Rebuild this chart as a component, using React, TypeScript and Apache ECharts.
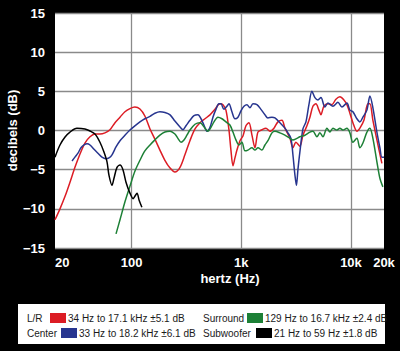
import { useEffect, useRef } from "react";
import * as echarts from "echarts";

// ---- data (frequency in Hz, level in dB) ----
const subHz = [20, 22.2, 24.7, 27.4, 31.7, 37.5, 41.7, 46.3, 51.4, 55.9, 59.6, 62.1, 66.2, 69.0, 73.5, 78.3, 83.3, 88.8, 96.5, 103, 107, 112, 117, 124];
const subDb = [-3.4, -1.85, -0.83, -0.2, 0.28, 0.19, -0.06, -0.45, -1.5, -2.75, -4.0, -5.7, -7.0, -6.1, -4.7, -4.4, -5.0, -6.6, -8.0, -8.7, -8.4, -8.0, -8.9, -9.8];

const lrHz = [20, 22.2, 24.7, 27.4, 30.4, 33.8, 37.5, 41.7, 46.3, 51.4, 57.1, 63.4, 70.5, 78.3, 86.9, 96.5, 107, 119, 132, 147, 163, 181, 201, 224, 248, 276, 306, 340, 378, 420, 466, 518, 575, 638, 680, 724, 771, 804, 839, 875, 912, 972, 1035, 1102, 1174, 1250, 1331, 1418, 1542, 1677, 1824, 1984, 2157, 2347, 2498, 2775, 2955, 3148, 3423, 3646, 3965, 4222, 4497, 4789, 5100, 5318, 5663, 6160, 6699, 7288, 7925, 8619, 9182, 9777, 10412, 11325, 12060, 13117, 14268, 14876, 15844, 17232, 19136];
const lrDb = [-11.4, -10.0, -8.4, -6.6, -4.7, -3.0, -1.6, -0.8, -0.45, -0.45, -0.3, 0.1, 1.0, 1.7, 2.4, 2.8, 3.0, 2.75, 1.85, 0.2, -1.1, -2.5, -3.8, -4.8, -5.3, -4.7, -3.1, -1.3, 0.2, 1.0, 1.5, 2.0, 2.7, 3.4, 3.3, 2.6, 0.1, -2.5, -4.5, -3.5, -2.5, -1.3, -0.7, 0.6, 1.0, -0.6, -2.2, -0.2, 0.1, 0.3, -0.1, 0.3, 1.1, 1.3, 0.3, -1.0, -2.2, -1.5, -2.0, -0.6, 0.6, 1.7, 3.1, 3.4, 2.6, 2.0, 3.1, 3.4, 3.3, 4.0, 4.3, 3.9, 3.3, 2.2, 1.0, -0.1, 0.3, 1.3, 3.4, 3.4, 1.3, -1.2, -4.2];

const centerHz = [28.6, 30.4, 32.4, 34.5, 36.8, 39.2, 41.7, 45.4, 49.3, 53.6, 58.3, 62.1, 66.2, 72.0, 78.3, 86.9, 96.5, 107, 119, 132, 147, 163, 181, 201, 224, 248, 276, 294, 313, 340, 370, 402, 429, 456, 486, 518, 551, 587, 625, 652, 694, 739, 771, 821, 875, 932, 992, 1057, 1125, 1198, 1276, 1388, 1510, 1642, 1748, 1902, 2025, 2250, 2498, 2661, 2834, 2955, 3083, 3181, 3282, 3423, 3646, 3883, 4135, 4403, 4689, 4994, 5318, 5784, 6160, 6841, 7600, 8265, 9182, 9777, 10412, 11325, 12060, 12845, 13972, 14876, 15844, 17232, 18350, 19136, 20000];
const centerDb = [-3.9, -3.4, -2.9, -2.2, -1.85, -1.7, -1.85, -2.4, -2.9, -3.4, -3.6, -3.5, -3.1, -2.1, -1.3, -0.6, 0.06, 0.6, 1.1, 1.5, 1.8, 2.2, 2.4, 2.3, 2.0, 1.2, 0.45, 0.1, 0.6, 1.3, 1.9, 2.0, 1.5, 0.7, -0.1, 0.4, 1.7, 2.7, 3.4, 3.4, 2.7, 3.1, 3.4, 2.4, 1.5, 1.7, 2.5, 3.1, 3.3, 2.9, 3.4, 3.3, 2.7, 2.0, 1.6, 1.7, 1.6, 1.0, 0.3, -0.3, -1.0, -3.1, -5.7, -7.0, -5.0, -2.7, 0.2, 1.1, 3.3, 5.0, 4.2, 3.9, 4.2, 3.0, 3.5, 3.1, 3.6, 3.0, 3.5, 2.6, 2.4, 1.5, 1.1, 1.7, 2.6, 4.4, 2.9, -0.2, -2.2, -3.4, -3.4];

const surroundHz = [72.0, 78.3, 86.9, 96.5, 107, 119, 132, 147, 163, 181, 201, 224, 248, 264, 282, 300, 319, 340, 378, 420, 466, 496, 529, 563, 612, 666, 724, 787, 839, 893, 951, 1013, 1079, 1149, 1250, 1331, 1418, 1542, 1642, 1748, 1902, 2025, 2250, 2498, 2775, 2955, 3214, 3423, 3802, 4222, 4497, 4890, 5208, 5546, 6032, 6424, 6841, 7442, 7925, 8440, 9182, 9777, 10412, 11325, 12060, 12845, 13972, 14876, 15844, 17232, 18350, 19542];
const surroundDb = [-13.2, -11.4, -9.1, -7.1, -5.2, -3.8, -2.6, -1.85, -1.2, -0.6, -0.2, -0.1, -0.45, -1.0, -1.5, -1.2, -0.6, 0.06, 0.8, 1.0, 0.3, -0.1, 0.4, 1.1, 1.7, 1.5, 1.1, 0.7, -0.2, -1.2, -1.85, -1.5, -2.6, -2.5, -2.2, -2.5, -2.2, -2.5, -1.85, -1.3, -0.3, -0.1, -0.3, -0.6, -1.0, -1.2, -1.0, -0.8, -0.6, -0.2, -0.1, -0.8, -0.3, -0.8, 0.3, -0.2, 0.3, 0.06, 0.3, 0.06, 0.3, -0.3, -1.5, -1.0, -2.2, -1.6, -0.2, 0.3, -1.0, -4.0, -6.1, -7.2];

const seriesNames = ["L/R", "Center", "Surround", "Subwoofer"];
const seriesRanges = [
  "34 Hz to 17.1 kHz ±5.1 dB",
  "33 Hz to 18.2 kHz ±6.1 dB",
  "129 Hz to 16.7 kHz ±2.4 dB",
  "21 Hz to 59 Hz ±1.8 dB",
];
const seriesColors = ["#dc1c24", "#27358f", "#1d8036", "#000000"];

const xTickValues = [20, 100, 1000, 10000, 20000];
const xTickLabels = ["20", "100", "1k", "10k", "20k"];
const yMin = -15;
const yMax = 15;
const yStep = 5;

const zip = (a: number[], b: number[]) => a.map((v, i) => [v, b[i]]);

export default function App() {
  const ref = useRef<HTMLDivElement>(null);
  useEffect(() => {
    const chart = echarts.init(ref.current!, null, { renderer: "svg" });
    const font = "Liberation Sans";
    const seriesData = [zip(lrHz, lrDb), zip(centerHz, centerDb), zip(surroundHz, surroundDb), zip(subHz, subDb)];

    // legend layout: [labelX, swatchX, textX, rowCenterY]
    const legendPos = [
      [27, 50, 68, 318],
      [27, 61, 79, 333],
      [203, 247, 265, 318],
      [203, 256, 274, 333],
    ];
    const legendEls: any[] = [
      { type: "rect", shape: { x: 18, y: 304, width: 367, height: 40 }, style: { fill: "#fff" } },
    ];
    seriesNames.forEach((n, i) => {
      const [lx, sx, tx, cy] = legendPos[i];
      legendEls.push({
        type: "text", x: lx, y: cy,
        style: { text: n, fill: "#1a1a1a", font: `10px "${font}"`, align: "left", verticalAlign: "middle" },
      });
      legendEls.push({
        type: "rect", shape: { x: sx, y: cy - 5, width: 16, height: 10 },
        style: { fill: seriesColors[i] },
      });
      legendEls.push({
        type: "text", x: tx, y: cy,
        style: { text: seriesRanges[i], fill: "#1a1a1a", font: `10px "${font}"`, align: "left", verticalAlign: "middle" },
      });
    });

    chart.setOption({
      animation: false,
      backgroundColor: "#000",
      grid: {
        left: 55, right: 16, top: 13, bottom: 103,
        show: true, backgroundColor: "#fff", borderWidth: 0,
        containLabel: false, outerBoundsMode: "none",
      },
      xAxis: {
        type: "log",
        logBase: 10,
        min: 20,
        max: 20000,
        axisLine: { show: false },
        axisTick: { show: false },
        axisLabel: {
          color: "#fff",
          fontWeight: "bold",
          fontSize: 13,
          fontFamily: font,
          margin: 8,
          alignMinLabel: "left",
          showMinLabel: true,
          showMaxLabel: true,
          formatter: (v: number) => {
            let best = 0;
            xTickValues.forEach((t, i) => {
              if (Math.abs(Math.log10(t) - Math.log10(v)) < Math.abs(Math.log10(xTickValues[best]) - Math.log10(v))) best = i;
            });
            return xTickLabels[best];
          },
        },
        splitLine: { show: true, showMinLine: false, showMaxLine: false, lineStyle: { color: "#8a8a8a", width: 1.3 } },
        name: "hertz (Hz)",
        nameLocation: "middle",
        nameGap: 24,
        nameMoveOverlap: false,
        nameTextStyle: { color: "#fff", fontWeight: "bold", fontSize: 13, fontFamily: font, padding: [0, 0, 0, 21] },
      },
      yAxis: {
        type: "value",
        min: yMin,
        max: yMax,
        interval: yStep,
        axisLine: { show: false },
        axisTick: { show: false },
        axisLabel: {
          color: "#fff",
          fontWeight: "bold",
          fontSize: 13,
          fontFamily: font,
          margin: 10,
          formatter: (v: number) => (v < 0 ? "\u2212" + Math.abs(v) : String(v)),
        },
        splitLine: { show: true, lineStyle: { color: "#8a8a8a", width: 1.3 } },
        name: "decibels (dB)",
        nameLocation: "middle",
        nameGap: 36,
        nameMoveOverlap: false,
        nameTextStyle: { color: "#fff", fontWeight: "bold", fontSize: 13, fontFamily: font },
      },
      series: seriesNames.map((n, i) => ({
        name: n,
        type: "line",
        data: seriesData[i],
        showSymbol: false,
        smooth: 0.3,
        lineStyle: { color: seriesColors[i], width: 1.5 },
        itemStyle: { color: seriesColors[i] },
      })),
      graphic: legendEls,
    });
    return () => chart.dispose();
  }, []);
  return <div ref={ref} style={{ position: "absolute", left: 0, top: 0, width: 400, height: 351 }} />;
}
